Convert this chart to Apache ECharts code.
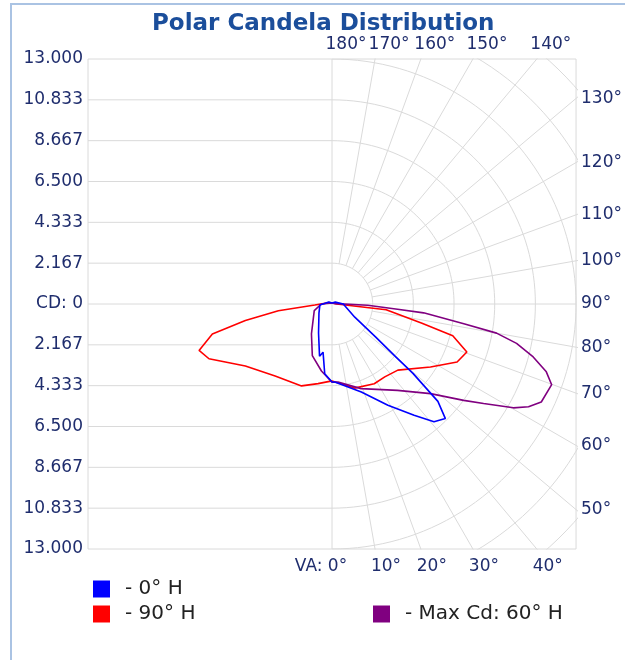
<!DOCTYPE html>
<html>
<head>
<meta charset="utf-8">
<title>Polar Candela Distribution</title>
<script src="https://cdn.jsdelivr.net/npm/echarts@6/dist/echarts.min.js"></script>
<style>
  html, body { margin: 0; padding: 0; background: #fff; }
  #chart { width: 625px; height: 660px; }
</style>
</head>
<body>
<div id="chart"></div>
<script>
// candela scale, 6 rings per half axis
const cdMax = 13;
const cdLabels = ['13.000', '10.833', '8.667', '6.500', '4.333', '2.167', 'CD: 0',
  '2.167', '4.333', '6.500', '8.667', '10.833', '13.000'];
const topAngles = [180, 170, 160, 150, 140];
const rightAngles = [130, 120, 110, 100, 90, 80, 70, 60, 50];
const bottomAngles = [0, 10, 20, 30, 40];

// vertical angle in degrees (+ = right half, - = opposite plane drawn on the left), candela
const h0Angles = [180, 120, 90, 60, 53, 50.5, 49.5, 47.5, 44.8, 41, 36.5, 29, 18.5, 11, 2, 0,
  -6, -10.6, -13.5, -25, -55, -85, -120, -180];
const h0Values = [0.05, 0.2, 0.6, 1.4, 2.9, 4.35, 5.67, 7.65, 8.57, 8.28, 7.35, 6.14, 4.92, 4.48, 4.14, 4.14,
  3.72, 2.6, 2.85, 1.7, 0.85, 0.65, 0.2, 0.05];

const h90Angles = [180, 90, 84, 78, 75.3, 70.5, 65.2, 57.5, 45, 36, 28, 15, 0,
  -10, -20.5, -38.4, -54.5, -66.1, -70.8, -76, -79.2, -82.9, -86.7, -120, -180];
const h90Values = [0.05, 0.25, 2.9, 4.9, 6.65, 7.62, 7.34, 6.22, 4.96, 4.78, 4.79, 4.62, 4.08,
  4.29, 4.64, 4.88, 5.67, 7.17, 7.5, 6.57, 4.7, 2.88, 0.92, 0.15, 0.05];

const h60Angles = [180, 95, 88, 85.5, 84.5, 81.5, 80, 78, 75.3, 72.5, 69.9, 65, 62.5, 60.3, 56.8, 53.9,
  47.8, 37.3, 19, 4.4, 0, -9, -21, -34.6, -69.6, -90, -180];
const h60Values = [0.05, 0.2, 1.9, 3.5, 4.9, 7.1, 8.9, 10.05, 11.08, 11.97, 12.46, 12.3, 11.8, 11.12, 9.65, 8.68,
  7.08, 5.76, 4.75, 4.15, 4.15, 3.6, 2.93, 1.93, 1.01, 0.57, 0.05];

const gridColor = '#dadada';
const labelColor = '#1f2d6d';
const ringStep = cdMax / 6;
const rad = Math.PI / 180;

// 0 deg points down (nadir), 90 deg to the right, 180 deg up
function polar(a, r) {
  return [r * Math.sin(a * rad), -r * Math.cos(a * rad)];
}
function toXY(angles, values) {
  return angles.map((a, i) => polar(a, values[i]));
}
function nearest(list, v) {
  let best = 0;
  list.forEach((p, i) => { if (Math.abs(p - v) < Math.abs(list[best] - v)) best = i; });
  return best;
}

const leftPos = cdLabels.map((_, i) => (6 - i) * ringStep);
const topPos = topAngles.map(a => cdMax * Math.tan((180 - a) * rad));
const rightPos = rightAngles.map(a => cdMax * Math.tan((a - 90) * rad));
const bottomPos = bottomAngles.map(a => cdMax * Math.tan(a * rad));

const gridSeries = [];
function gridLine(data) {
  gridSeries.push({
    type: 'line',
    data: data,
    silent: true,
    symbol: 'none',
    clip: true,
    z: 1,
    lineStyle: { color: gridColor, width: 1 },
  });
}
// horizontal lines on the left half
for (let k = -5; k <= 5; k++) gridLine([[-cdMax, k * ringStep], [0, k * ringStep]]);
gridLine([[0, -cdMax], [0, cdMax]]);
gridLine([[0, 0], [cdMax, 0]]);
// rings on the right half, the outer ones get cut by the box
for (let k = 1; k <= 8; k++) {
  const pts = [];
  for (let a = 0; a <= 180; a += 2) pts.push(polar(a, k * ringStep));
  gridLine(pts);
}
// spokes every 10 deg
for (let a = 10; a < 180; a += 10) {
  if (a === 90) continue;
  gridLine([polar(a, ringStep), polar(a, cdMax * 1.6)]);
}

function curve(name, color, angles, values) {
  return {
    name: name,
    type: 'line',
    data: toXY(angles, values),
    symbol: 'none',
    clip: true,
    z: 3,
    itemStyle: { color: color },
    lineStyle: { color: color, width: 1.6 },
  };
}

const baseLabel = { color: labelColor, fontSize: 17, fontFamily: 'DejaVu Sans' };

const option = {
  animation: false,
  backgroundColor: '#fff',
  title: {
    text: 'Polar Candela Distribution',
    left: 147,
    top: 8,
    textStyle: { color: '#1b4e9b', fontSize: 23, fontWeight: 'bold', fontFamily: 'DejaVu Sans' },
  },
  graphic: [{
    type: 'rect',
    shape: { x: 11, y: 4, width: 700, height: 700 },
    style: { fill: 'none', stroke: '#aac3e3', lineWidth: 2 },
    silent: true,
  }],
  grid: {
    show: true,
    left: 88,
    top: 59,
    right: 46,
    bottom: 111,
    borderColor: gridColor,
    borderWidth: 1,
  },
  xAxis: [
    {
      type: 'value', position: 'bottom', min: -cdMax, max: cdMax,
      axisLine: { show: false }, axisTick: { show: false }, splitLine: { show: false },
      axisLabel: Object.assign({}, baseLabel, {
        customValues: bottomPos,
        margin: 9,
        padding: [0, 0, 0, 22],
        formatter: v => {
          const i = nearest(bottomPos, v);
          return i === 0 ? '{t|VA: ' + bottomAngles[i] + '°}{s|}' : bottomAngles[i] + '°';
        },
        rich: {
          t: { color: labelColor, fontSize: 17, fontFamily: 'DejaVu Sans' },
          s: { width: 44 },
        },
      }),
    },
    {
      type: 'value', position: 'top', min: -cdMax, max: cdMax,
      axisLine: { show: false }, axisTick: { show: false }, splitLine: { show: false },
      axisLabel: Object.assign({}, baseLabel, {
        customValues: topPos,
        margin: 6,
        padding: [0, 0, 0, 28],
        formatter: v => topAngles[nearest(topPos, v)] + '°',
      }),
    },
  ],
  yAxis: [
    {
      type: 'value', position: 'left', min: -cdMax, max: cdMax,
      axisLine: { show: false }, axisTick: { show: false }, splitLine: { show: false },
      axisLabel: Object.assign({}, baseLabel, {
        customValues: leftPos,
        margin: 5,
        formatter: v => cdLabels[nearest(leftPos, v)],
      }),
    },
    {
      type: 'value', position: 'right', min: -cdMax, max: cdMax,
      axisLine: { show: false }, axisTick: { show: false }, splitLine: { show: false },
      axisLabel: Object.assign({}, baseLabel, {
        customValues: rightPos,
        margin: 5,
        formatter: v => rightAngles[nearest(rightPos, v)] + '°',
      }),
    },
  ],
  legend: [
    { data: ['0° H'], left: 88, top: 574 },
    { data: ['90° H'], left: 88, top: 599 },
    { data: ['Max Cd: 60° H'], left: 368, top: 599 },
  ].map(l => Object.assign(l, {
    orient: 'vertical',
    icon: 'rect',
    itemWidth: 17,
    itemHeight: 17,
    selectedMode: false,
    formatter: n => '- ' + n,
    textStyle: { color: '#222', fontSize: 20, fontFamily: 'DejaVu Sans', padding: [0, 0, 0, 10] },
  })),
  series: gridSeries.concat([
    curve('90° H', '#ff0000', h90Angles, h90Values),
    curve('Max Cd: 60° H', '#800080', h60Angles, h60Values),
    curve('0° H', '#0000ff', h0Angles, h0Values),
  ]),
};

const chart = echarts.init(document.getElementById('chart'));
chart.setOption(option);
</script>
</body>
</html>
